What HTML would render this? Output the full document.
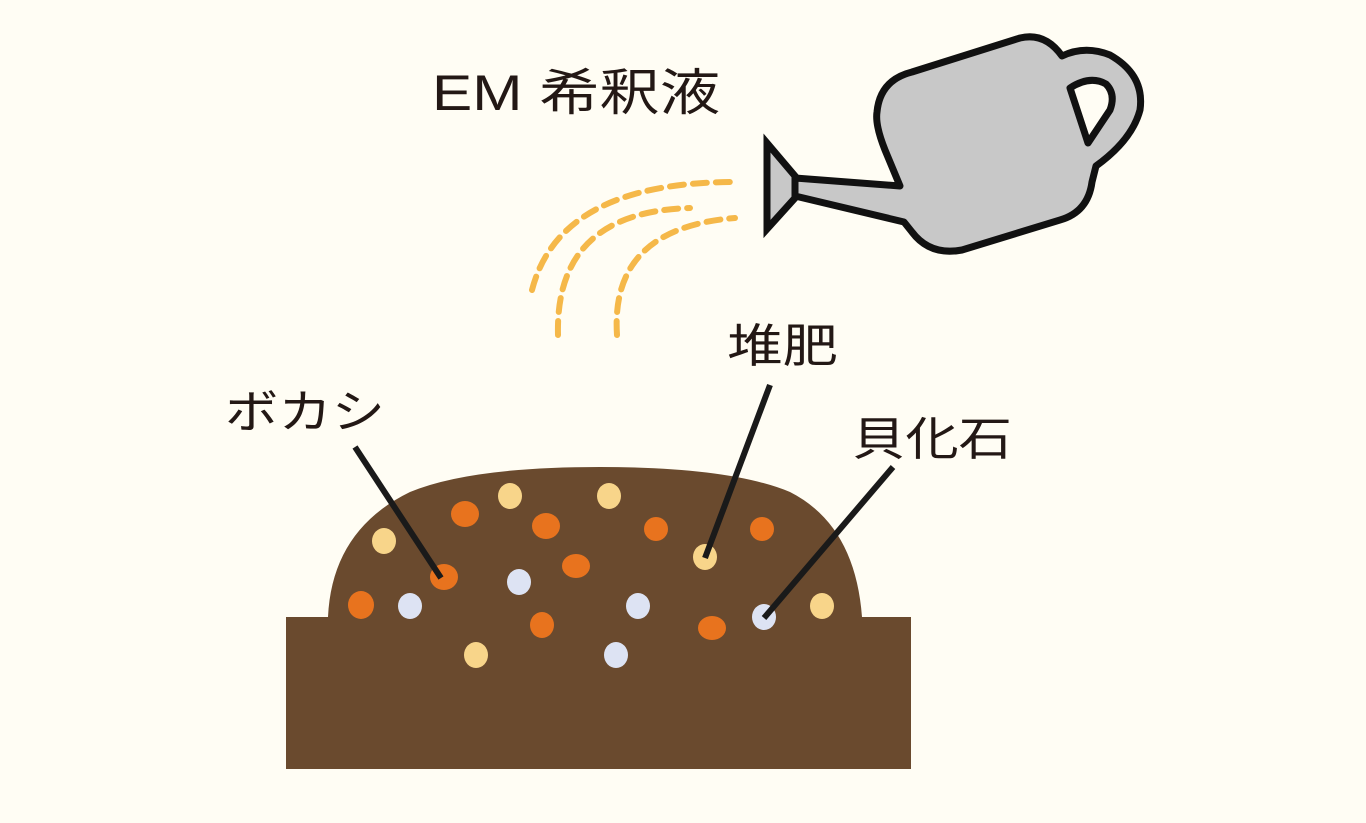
<!DOCTYPE html>
<html><head><meta charset="utf-8"><style>
html,body{margin:0;padding:0;background:#fffdf4;}
svg{display:block}
text{font-family:"Liberation Sans","Noto Sans CJK JP",sans-serif;fill:#231815;}
</style></head><body>
<svg width="1366" height="823" viewBox="0 0 1366 823" xmlns="http://www.w3.org/2000/svg">
<rect width="1366" height="823" fill="#fffdf4"/>
<path d="M286,617 L328,617 Q332,530 410,492 Q470,467 600,467 Q730,467 790,492 Q855,525 862,617 L911,617 L911,769 L286,769 Z" fill="#6a4a2e"/>
<g fill="#f8d58a">
<ellipse cx="510" cy="496" rx="12" ry="13"/><ellipse cx="609" cy="496" rx="12" ry="13"/>
<ellipse cx="384" cy="541" rx="12" ry="13"/><ellipse cx="705" cy="557" rx="12" ry="13"/>
<ellipse cx="822" cy="606" rx="12" ry="13"/><ellipse cx="476" cy="655" rx="12" ry="13"/>
</g>
<g fill="#e8731e">
<ellipse cx="465" cy="514" rx="14" ry="13"/><ellipse cx="546" cy="526" rx="14" ry="13"/>
<ellipse cx="656" cy="529" rx="12" ry="12"/><ellipse cx="762" cy="529" rx="12" ry="12"/>
<ellipse cx="576" cy="566" rx="14" ry="12"/><ellipse cx="444" cy="577" rx="14" ry="13"/>
<ellipse cx="361" cy="605" rx="13" ry="14"/><ellipse cx="542" cy="625" rx="12" ry="13"/>
<ellipse cx="712" cy="628" rx="14" ry="12"/>
</g>
<g fill="#dde3f3">
<ellipse cx="519" cy="582" rx="12" ry="13"/><ellipse cx="410" cy="606" rx="12" ry="13"/>
<ellipse cx="638" cy="606" rx="12" ry="13"/><ellipse cx="764" cy="617" rx="12" ry="13"/>
<ellipse cx="616" cy="655" rx="12" ry="13"/>
</g>
<g stroke="#1a1a1a" stroke-width="6" stroke-linecap="butt">
<line x1="355" y1="447" x2="441" y2="578"/>
<line x1="770" y1="385" x2="705" y2="558"/>
<line x1="893" y1="467" x2="764" y2="618"/>
</g>
<text x="432" y="110" font-size="50" textLength="288" lengthAdjust="spacingAndGlyphs">EM 希釈液</text>
<text x="225" y="428" font-size="46" textLength="160" lengthAdjust="spacingAndGlyphs">ボカシ</text>
<text x="727" y="362" font-size="46" textLength="111" lengthAdjust="spacingAndGlyphs">堆肥</text>
<text x="852" y="455" font-size="46" textLength="160" lengthAdjust="spacingAndGlyphs">貝化石</text>
<g fill="none" stroke="#f5b849" stroke-width="6" stroke-dasharray="14 9" stroke-linecap="round">
<path d="M532,290 Q560,182 735,182"/>
<path d="M558,335 Q555,212 690,208"/>
<path d="M617,335 Q610,228 735,218"/>
</g>
<path d="M877,112 Q880,80 912,72 L1020,38 Q1045,32 1062,56 Q1085,45 1110,55 Q1145,75 1140,110 Q1132,140 1096,166 L1092,182 Q1088,212 1060,220 L962,250 Q930,256 912,232 L904,222 L795,196 L795,178 L900,186 L885,150 Q875,125 877,112 Z" fill="#c8c8c8" stroke="#111" stroke-width="7" stroke-linejoin="round"/>
<path d="M1070,88 Q1090,75 1106,84 Q1116,94 1110,110 L1088,143 Z" fill="#fffdf4" stroke="#111" stroke-width="7" stroke-linejoin="round"/>
<path d="M767,143 L795,176 L795,198 L767,229 Z" fill="#c8c8c8" stroke="#111" stroke-width="7" stroke-linejoin="miter"/>
</svg>
</body></html>
